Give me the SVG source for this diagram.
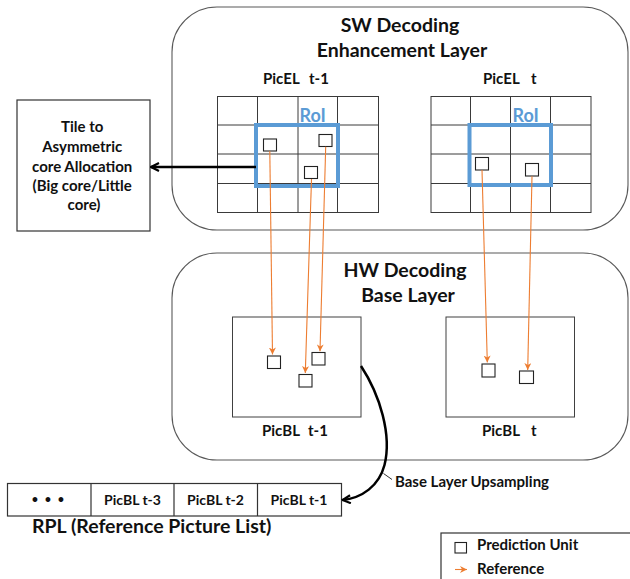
<svg xmlns="http://www.w3.org/2000/svg" width="630" height="579" viewBox="0 0 630 579">
<style>
text{font-family:Lato,"Liberation Sans",sans-serif;font-weight:bold;fill:#111}
.title{font-size:19.5px}
.lbl{font-size:15px}
.cell{font-size:14px}
.roi-t{font-size:18px;fill:#5B9BD5}
.layer{fill:#fff;stroke:#595959;stroke-width:1.1}
.grid{fill:none;stroke:#3a3a3a;stroke-width:1}
.roi{fill:none;stroke:#5B9BD5;stroke-width:4}
.pu{fill:#fff;stroke:#222;stroke-width:1.1}
.pic{fill:#fff;stroke:#404040;stroke-width:1}
.ref{stroke:#ED7D31;stroke-width:1.1;fill:none;marker-end:url(#oa)}
.blk{stroke:#000;stroke-width:2.5;fill:none;marker-end:url(#ba)}
.box{fill:#fff;stroke:#333;stroke-width:1.2}
</style>
<defs>
<marker id="oa" viewBox="0 0 10 10" refX="10" refY="5" markerWidth="7" markerHeight="7" markerUnits="userSpaceOnUse" orient="auto">
<path d="M0,0 L10,5 L0,10 L3,5 z" fill="#ED7D31"/>
</marker>
<marker id="ba" viewBox="0 0 10 10" refX="9" refY="5" markerWidth="10" markerHeight="10" markerUnits="userSpaceOnUse" orient="auto">
<path d="M1,1 L9,5 L1,9" fill="none" stroke="#000" stroke-width="2.2"/>
</marker>
</defs>

<g id="sw-layer">
<rect class="layer" x="172" y="7" width="456" height="223" rx="45" ry="45"/>
<text class="title" x="400" y="31.5" text-anchor="middle">SW Decoding</text>
<text class="title" x="402" y="56.5" text-anchor="middle">Enhancement Layer</text>
</g>

<g id="picel-t-1">
<text class="lbl" y="83.5"><tspan x="263">PicEL</tspan><tspan x="309">t-1</tspan></text>
<rect class="grid" x="217.5" y="96.5" width="161" height="116"/>
<path class="grid" d="M257.5 96.5V212.5M298 96.5V212.5M337.5 96.5V212.5M217.5 125H378.5M217.5 154H378.5M217.5 183.5H378.5"/>
<rect class="roi" x="256" y="125" width="82" height="61"/>
<text class="roi-t" x="299.5" y="121.5">RoI</text>
<rect class="pu" x="263.5" y="139" width="13" height="12"/>
<rect class="pu" x="319" y="134.5" width="13" height="12"/>
<rect class="pu" x="304.5" y="166.5" width="13" height="12"/>
</g>

<g id="picel-t">
<text class="lbl" y="83.5"><tspan x="483">PicEL</tspan><tspan x="531">t</tspan></text>
<rect class="grid" x="431" y="96.5" width="160" height="116"/>
<path class="grid" d="M470.5 96.5V212.5M510.5 96.5V212.5M550.5 96.5V212.5M431 125H591M431 154H591M431 183.5H591"/>
<rect class="roi" x="469.5" y="125" width="81.5" height="60"/>
<text class="roi-t" x="512.5" y="121.5">RoI</text>
<rect class="pu" x="475.5" y="157.5" width="13" height="12.5"/>
<rect class="pu" x="525.5" y="163.5" width="13" height="12.5"/>
</g>

<g id="tile-alloc">
<rect class="box" x="17" y="100" width="133" height="131"/>
<text class="lbl" text-anchor="middle">
<tspan x="84" y="132">Tile to</tspan>
<tspan x="84" y="152">Asymmetric</tspan>
<tspan x="84" y="171.5">core Allocation</tspan>
<tspan x="84" y="190.5">(Big core/Little</tspan>
<tspan x="84" y="209.5">core)</tspan>
</text>
</g>

<g id="hw-layer">
<rect class="layer" x="172" y="253" width="456" height="207" rx="45" ry="45"/>
<text class="title" x="405" y="276.5" text-anchor="middle">HW Decoding</text>
<text class="title" x="408" y="301.5" text-anchor="middle">Base Layer</text>
</g>

<g id="picbl-t-1">
<rect class="pic" x="232.5" y="317" width="128.5" height="100"/>
<rect class="pu" x="267.5" y="356" width="13" height="12.5"/>
<rect class="pu" x="312" y="352.5" width="13" height="12.5"/>
<rect class="pu" x="299" y="374.5" width="13" height="12.5"/>
<text class="lbl" y="435.5"><tspan x="262">PicBL</tspan><tspan x="308">t-1</tspan></text>
</g>

<g id="picbl-t">
<rect class="pic" x="446" y="317" width="128.5" height="100"/>
<rect class="pu" x="482" y="364" width="13" height="13"/>
<rect class="pu" x="519.5" y="371" width="14" height="12.5"/>
<text class="lbl" y="435.5"><tspan x="482">PicBL</tspan><tspan x="531">t</tspan></text>
</g>

<g id="rpl">
<rect class="box" x="7.5" y="483.5" width="334" height="32.5"/>
<path d="M91 483.5V516M174 483.5V516M257.5 483.5V516" stroke="#333" stroke-width="1.2"/>
<text x="49" y="503" text-anchor="middle" style="font-size:11px;letter-spacing:2px">• • •</text>
<text class="cell" x="132.5" y="504.5" text-anchor="middle">PicBL t-3</text>
<text class="cell" x="215.5" y="504.5" text-anchor="middle">PicBL t-2</text>
<text class="cell" x="299" y="504.5" text-anchor="middle">PicBL t-1</text>
<text class="title" x="32" y="533">RPL (Reference Picture List)</text>
</g>

<g id="legend">
<rect class="box" x="441" y="533" width="200" height="60"/>
<rect class="pu" x="455" y="542.5" width="11.5" height="10.5"/>
<text class="lbl" x="477" y="550">Prediction Unit</text>
<line x1="455" y1="569.5" x2="467" y2="569.5" class="ref"/>
<text class="lbl" x="477" y="573.5">Reference</text>
</g>

<g id="connectors">
<line class="ref" x1="269.8" y1="151.3" x2="272.5" y2="354.5"/>
<line class="ref" x1="311.5" y1="179" x2="305.3" y2="373"/>
<line class="ref" x1="325.7" y1="146.7" x2="320" y2="351.3"/>
<line class="ref" x1="482" y1="170" x2="487.3" y2="362.5"/>
<line class="ref" x1="532" y1="176.3" x2="527.7" y2="370"/>
<line class="blk" x1="256" y1="167" x2="151" y2="167"/>
<path class="blk" d="M361 366 C380 395, 392 435, 384.5 465 C379 486, 362 498, 342.5 500"/>
<line x1="383.5" y1="473.5" x2="392" y2="479.5" stroke="#333" stroke-width="1"/>
<text class="lbl" x="395" y="486.5">Base Layer Upsampling</text>
</g>
</svg>
